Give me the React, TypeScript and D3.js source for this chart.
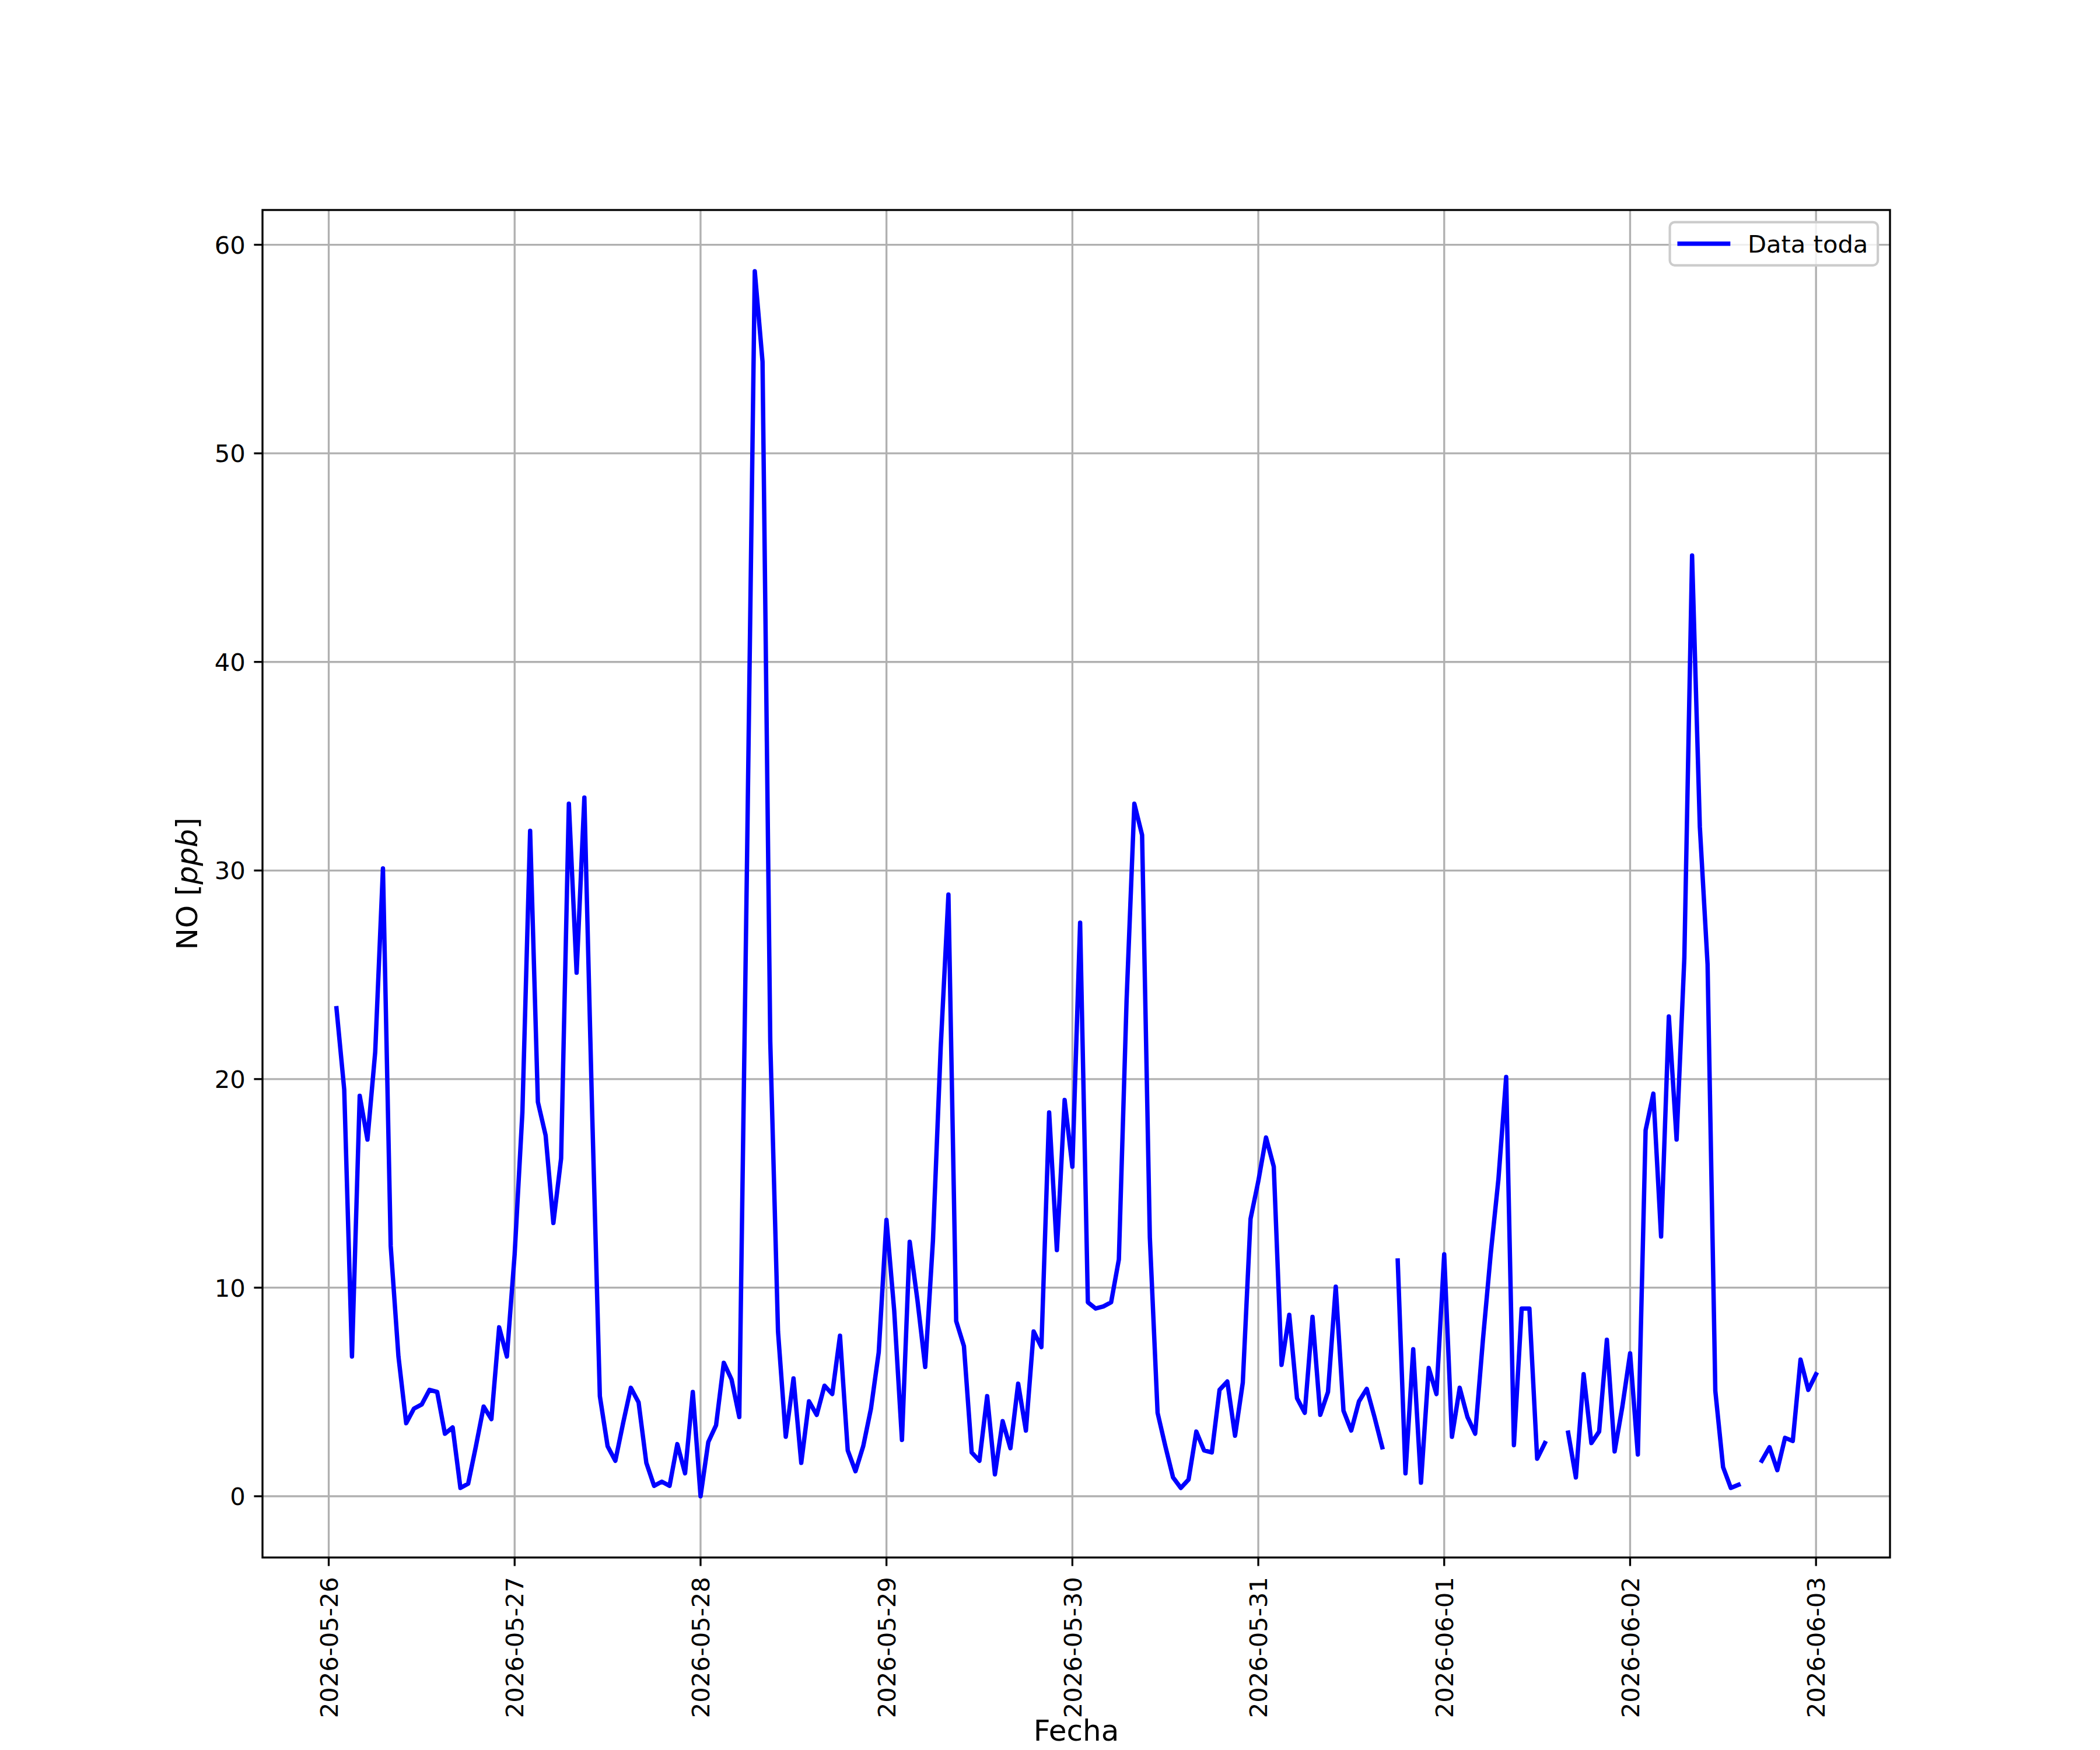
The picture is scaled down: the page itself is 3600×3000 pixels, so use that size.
import React from "react";
import * as d3 from "d3";

// Hourly NO readings starting 2026-05-26 01:00 (null = missing)
const START = "2026-05-26T01:00:00Z";
const day1 = [23.4, 19.5, 6.7, 19.2, 17.1, 21.3, 30.1, 12.0, 6.7, 3.5, 4.2, 4.4, 5.1, 5.0, 3.0, 3.3, 0.4, 0.6, 2.4, 4.3, 3.7, 8.1, 6.7, 11.6];
const day2 = [18.4, 31.9, 18.9, 17.3, 13.1, 16.2, 33.2, 25.1, 33.5, 18.5, 4.8, 2.4, 1.7, 3.5, 5.2, 4.5, 1.6, 0.5, 0.7, 0.5, 2.5, 1.1, 5.0, 0.0];
const day3 = [2.6, 3.4, 6.4, 5.6, 3.8, 30.5, 58.73, 54.4, 21.8, 7.9, 2.85, 5.65, 1.6, 4.55, 3.9, 5.3, 4.9, 7.7, 2.2, 1.2, 2.4, 4.2, 6.9, 13.25];
const day4 = [8.9, 2.7, 12.2, 9.4, 6.2, 12.25, 21.5, 28.85, 8.4, 7.2, 2.1, 1.7, 4.8, 1.05, 3.6, 2.3, 5.4, 3.15, 7.9, 7.15, 18.4, 11.8, 19.0, 15.8];
const day5 = [27.5, 9.3, 9.0, 9.1, 9.3, 11.35, 23.8, 33.2, 31.7, 12.4, 4.0, 2.4, 0.9, 0.4, 0.8, 3.1, 2.2, 2.1, 5.1, 5.5, 2.9, 5.45, 13.3, 15.1];
const day6 = [17.2, 15.8, 6.3, 8.7, 4.7, 4.0, 8.6, 3.9, 5.0, 10.05, 4.1, 3.15, 4.55, 5.15, 3.8, 2.35, null, 11.3, 1.1, 7.05, 0.65, 6.15, 4.9, 11.6];
const day7 = [2.85, 5.2, 3.8, 3.0, 7.5, 11.6, 15.2, 20.1, 2.45, 9.0, 9.0, 1.8, 2.55, null, null, 3.05, 0.9, 5.85, 2.55, 3.1, 7.5, 2.15, 4.3, 6.85];
const day8 = [2.0, 17.55, 19.3, 12.45, 23.0, 17.1, 25.8, 45.1, 32.1, 25.5, 5.05, 1.4, 0.4, 0.55, null, null, 1.7, 2.35, 1.25, 2.8, 2.65, 6.55, 5.1, 5.85];

const xTickLabels = ["2026-05-26", "2026-05-27", "2026-05-28", "2026-05-29", "2026-05-30", "2026-05-31", "2026-06-01", "2026-06-02", "2026-06-03"];
const yTicks = [0, 10, 20, 30, 40, 50, 60];
const seriesName = "Data toda";
const xLabel = "Fecha";

const W = 3600;
const H = 3000;
const L = 450;
const R = 3240;
const T = 360;
const B = 2670;
const PT = 300 / 72;
const FS = 10 * PT;
const LFS = 12 * PT;
const TICK = 3.5 * PT;
const FONT = "DejaVu Sans";
const LINE_W = 7.5;

export default function App() {
  const values: (number | null)[] = [...day1, ...day2, ...day3, ...day4, ...day5, ...day6, ...day7, ...day8];
  const t0 = Date.parse(START);
  const data = values.map((v, i) => ({ t: new Date(t0 + i * 3600e3), v }));
  const valid = data.filter((d) => d.v != null) as { t: Date; v: number }[];
  const tMin = +valid[0].t;
  const tMax = +valid[valid.length - 1].t;
  const span = tMax - tMin;
  const x = d3.scaleUtc().domain([tMin - 0.05 * span, tMax + 0.05 * span]).range([L, R]);
  const vMin = d3.min(valid, (d) => d.v) as number;
  const vMax = d3.max(valid, (d) => d.v) as number;
  const r = vMax - vMin;
  const y = d3.scaleLinear().domain([vMin - 0.05 * r, vMax + 0.05 * r]).range([B, T]);
  const parse = d3.utcParse("%Y-%m-%d");
  const xTicks = xTickLabels.map((s) => ({ s, t: parse(s) as Date }));

  const line = d3
    .line<{ t: Date; v: number | null }>()
    .defined((d) => d.v != null)
    .x((d) => x(d.t))
    .y((d) => y(d.v as number));

  const gridColor = "#b0b0b0";
  const gw = 0.8 * PT;

  // legend geometry
  const legW = 356.6;
  const legH = 74;
  const legR = R - 0.5 * FS;
  const legT = T + 0.5 * FS;
  const legL = legR - legW;
  const legCY = legT + legH / 2;

  return (
    <svg
      width={W}
      height={H}
      viewBox={`0 0 ${W} ${H}`}
      style={{ position: "absolute", left: 0, top: 0, background: "#fff" }}
      fontFamily={FONT}
    >
      <rect x={0} y={0} width={W} height={H} fill="#fff" />
      {/* grid */}
      <g>
        {xTicks.map((d) => (
          <line key={"gx" + d.s} x1={x(d.t)} x2={x(d.t)} y1={T} y2={B} stroke={gridColor} strokeWidth={gw} />
        ))}
        {yTicks.map((v) => (
          <line key={"gy" + v} x1={L} x2={R} y1={y(v)} y2={y(v)} stroke={gridColor} strokeWidth={gw} />
        ))}
      </g>
      {/* data */}
      <path
        d={line(data) || ""}
        fill="none"
        stroke="#0000ff"
        strokeWidth={LINE_W}
        strokeLinejoin="round"
        strokeLinecap="square"
      />
      {/* spines */}
      <rect x={L} y={T} width={R - L} height={B - T} fill="none" stroke="#000" strokeWidth={gw} />
      {/* y ticks */}
      {yTicks.map((v) => (
        <g key={"yt" + v}>
          <line x1={L - TICK} x2={L} y1={y(v)} y2={y(v)} stroke="#000" strokeWidth={gw} />
          <text x={L - 2 * TICK} y={y(v) + 0.364 * FS} fontSize={FS} textAnchor="end" fill="#000">
            {v}
          </text>
        </g>
      ))}
      {/* x ticks */}
      {xTicks.map((d) => (
        <g key={"xt" + d.s}>
          <line x1={x(d.t)} x2={x(d.t)} y1={B} y2={B + TICK} stroke="#000" strokeWidth={gw} />
          <text
            transform={`translate(${x(d.t)},${B + 2 * TICK + 4}) rotate(-90)`}
            x={0}
            y={0.364 * FS}
            fontSize={FS}
            textAnchor="end"
            fill="#000"
          >
            {d.s}
          </text>
        </g>
      ))}
      {/* axis labels */}
      <text x={(L + R) / 2} y={2984} fontSize={LFS} textAnchor="middle" fill="#000">
        {xLabel}
      </text>
      <text transform={`translate(338,${(T + B) / 2}) rotate(-90)`} fontSize={LFS} textAnchor="middle" fill="#000">
        NO [<tspan fontStyle="italic">ppb</tspan>]
      </text>
      {/* legend */}
      <rect
        x={legL}
        y={legT}
        width={legW}
        height={legH}
        rx={0.2 * FS}
        ry={0.2 * FS}
        fill="#fff"
        fillOpacity={0.8}
        stroke="#cccccc"
        strokeWidth={1 * PT}
      />
      <line
        x1={legL + 0.4 * FS}
        x2={legL + 0.4 * FS + 2 * FS}
        y1={legCY}
        y2={legCY}
        stroke="#0000ff"
        strokeWidth={LINE_W}
        strokeLinecap="square"
      />
      <text x={legL + 0.4 * FS + 2.8 * FS} y={legCY + 0.364 * FS} fontSize={FS} fill="#000">
        {seriesName}
      </text>
    </svg>
  );
}
